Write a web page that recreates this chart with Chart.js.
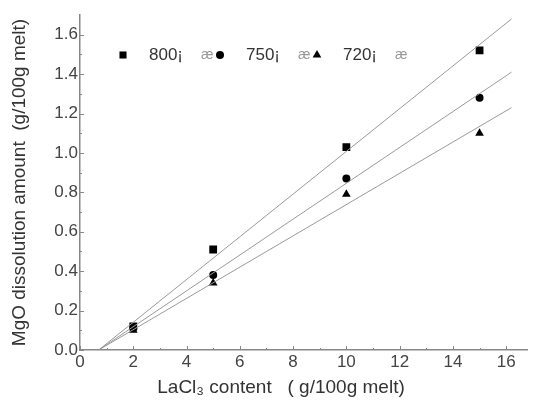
<!DOCTYPE html>
<html>
<head>
<meta charset="utf-8">
<script src="https://cdn.jsdelivr.net/npm/chart.js@4.4.1/dist/chart.umd.min.js"></script>
<style>
  html, body { margin: 0; padding: 0; background: #fff; }
  #wrap { width: 533px; height: 405px; }
</style>
</head>
<body>
<div id="wrap"><canvas id="chart" width="533" height="405"></canvas></div>
<script>
// values
const laCl3 = [2, 5, 10, 15];
const mgo800 = [0.12, 0.51, 1.03, 1.52];
const mgo750 = [0.11, 0.38, 0.87, 1.28];
const mgo720 = [0.10, 0.34, 0.79, 1.10];

// ends of the fitted lines, as drawn
const fitX = [0.7, 16.2];
const fit800 = [0, 1.68];
const fit750 = [0, 1.41];
const fit720 = [0, 1.23];

const seriesNames = ['800¡', '750¡', '720¡'];
const xTicks = [0, 2, 4, 6, 8, 10, 12, 14, 16];
const yTicks = [0, 0.2, 0.4, 0.6, 0.8, 1.0, 1.2, 1.4, 1.6];

const FONT = '"Liberation Sans", Arial, sans-serif';

const toPoints = (xs, ys) => xs.map((x, i) => ({ x: x, y: ys[i] }));

const fitStyle = {
    type: 'line',
    borderColor: '#9a9a9a',
    borderWidth: 1,
    pointRadius: 0,
    fill: false,
};

const markStyle = {
    type: 'scatter',
    backgroundColor: '#000',
    borderColor: '#000',
    borderWidth: 0,
};

// little inward tick marks, like the original plot
const innerTicks = {
    id: 'innerTicks',
    afterDraw(chart) {
        const ctx = chart.ctx;
        const xs = chart.scales.x;
        const ys = chart.scales.y;
        const a = chart.chartArea;
        ctx.save();
        ctx.strokeStyle = '#888';
        ctx.lineWidth = 1;
        ctx.beginPath();
        for (let v = 0; v <= 16; v += 1) {
            const px = Math.round(xs.getPixelForValue(v)) + 0.5;
            const len = v % 2 === 0 ? 4 : 2;
            ctx.moveTo(px, a.bottom);
            ctx.lineTo(px, a.bottom - len);
        }
        for (let k = 0; k <= 16; k += 1) {
            const py = Math.round(ys.getPixelForValue(k / 10)) + 0.5;
            const len = k % 2 === 0 ? 4 : 2;
            ctx.moveTo(a.left, py);
            ctx.lineTo(a.left + len, py);
        }
        ctx.stroke();
        ctx.restore();
    }
};

// legend inside the plot and the x title
const extras = {
    id: 'extras',
    afterDraw(chart) {
        const ctx = chart.ctx;
        ctx.save();
        const y = 55;
        const starts = [123, 220, 317];
        const styles = ['rect', 'circle', 'triangle'];
        const radii = [5, 4, 5];
        styles.forEach((st, i) => {
            ctx.fillStyle = '#000';
            ctx.strokeStyle = '#000';
            Chart.helpers.drawPoint(ctx, { pointStyle: st, radius: radii[i], borderWidth: 0 }, starts[i], y);
            ctx.fillStyle = '#333';
            ctx.font = '17px ' + FONT;
            ctx.textBaseline = 'middle';
            ctx.textAlign = 'left';
            ctx.fillText(seriesNames[i], starts[i] + 26, y);
            ctx.fillStyle = '#999';
            ctx.font = '14px ' + FONT;
            ctx.fillText('æ', starts[i] + 78, y);
        });

        ctx.fillStyle = '#333';
        ctx.font = '19px ' + FONT;
        ctx.textAlign = 'center';
        ctx.textBaseline = 'middle';
        ctx.fillText('LaCl\u2083 content   ( g/100g melt)', 281, 388);
        ctx.restore();
    }
};

new Chart(document.getElementById('chart'), {
    data: {
        datasets: [
            Object.assign({ data: toPoints(fitX, fit800) }, fitStyle),
            Object.assign({ data: toPoints(fitX, fit750) }, fitStyle),
            Object.assign({ data: toPoints(fitX, fit720) }, fitStyle),
            Object.assign({ data: toPoints(laCl3, mgo800), pointStyle: 'rect', pointRadius: 5.5 }, markStyle),
            Object.assign({ data: toPoints(laCl3, mgo750), pointStyle: 'circle', pointRadius: 4 }, markStyle),
            Object.assign({ data: toPoints(laCl3, mgo720), pointStyle: 'triangle', pointRadius: 5 }, markStyle),
        ],
    },
    options: {
        responsive: false,
        animation: false,
        layout: { padding: { top: 15, right: 0, left: 0, bottom: 0 } },
        plugins: {
            legend: { display: false },
            tooltip: { enabled: false },
        },
        scales: {
            x: {
                type: 'linear',
                min: 0,
                max: 16.8,
                grid: { display: false, drawTicks: false },
                border: { color: '#888', width: 1.5 },
                afterBuildTicks: (s) => { s.ticks = xTicks.map(v => ({ value: v })); },
                afterFit: (s) => { s.height = 55; },
                ticks: {
                    padding: 2,
                    color: '#444',
                    font: { family: FONT, size: 17 },
                    maxRotation: 0,
                },
            },
            y: {
                type: 'linear',
                min: 0,
                max: 1.7,
                grid: { display: false, drawTicks: false },
                border: { color: '#888', width: 1.5 },
                afterBuildTicks: (s) => { s.ticks = yTicks.map(v => ({ value: v })); },
                afterFit: (s) => { s.width = 80; },
                ticks: {
                    padding: 2,
                    color: '#444',
                    font: { family: FONT, size: 17 },
                    callback: (v) => v.toFixed(1),
                },
                title: {
                    display: true,
                    text: 'MgO dissolution amount  (g/100g melt)',
                    color: '#333',
                    font: { family: FONT, size: 19 },
                    padding: { top: 8, bottom: 0 },
                },
            },
        },
    },
    plugins: [innerTicks, extras],
});
</script>
</body>
</html>
